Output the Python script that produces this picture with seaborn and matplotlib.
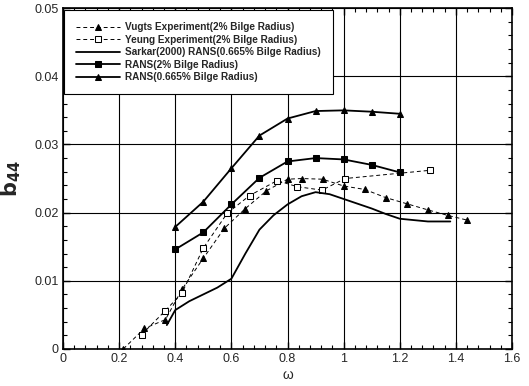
import numpy as np
import pandas as pd
import seaborn as sns
import matplotlib.pyplot as plt
from matplotlib.ticker import MultipleLocator

# data
vugts_w = [0.215, 0.29, 0.365, 0.425, 0.5, 0.575, 0.65, 0.725, 0.8, 0.85, 0.925,
           1.0, 1.075, 1.15, 1.225, 1.3, 1.37, 1.44]
vugts_b = [0.0, 0.0030, 0.0043, 0.0088, 0.0133, 0.0177, 0.0206, 0.0232, 0.0249, 0.0250,
           0.0249, 0.0239, 0.0234, 0.0222, 0.0213, 0.0204, 0.0196, 0.0189]

yeung_w = [0.28, 0.362, 0.424, 0.5, 0.585, 0.665, 0.763, 0.835, 0.923, 1.005, 1.306]
yeung_b = [0.0021, 0.0055, 0.0082, 0.0148, 0.0199, 0.0225, 0.0247, 0.0238, 0.0233, 0.0250, 0.0262]

sarkar_w = [0.37, 0.40, 0.45, 0.5, 0.55, 0.6, 0.65, 0.7, 0.75, 0.8, 0.85, 0.9, 0.95,
            1.0, 1.05, 1.1, 1.15, 1.2, 1.3, 1.38]
sarkar_b = [0.0035, 0.0057, 0.0070, 0.0080, 0.0090, 0.0103, 0.0140, 0.0175, 0.0196, 0.0212,
            0.0224, 0.0230, 0.0227, 0.0220, 0.0213, 0.0206, 0.0198, 0.0191, 0.0187, 0.0187]

rans2_w = [0.4, 0.5, 0.6, 0.7, 0.8, 0.9, 1.0, 1.1, 1.2]
rans2_b = [0.0146, 0.0171, 0.0212, 0.0251, 0.0275, 0.0280, 0.0278, 0.0270, 0.0259]

rans0665_w = [0.4, 0.5, 0.6, 0.7, 0.8, 0.9, 1.0, 1.1, 1.2]
rans0665_b = [0.0179, 0.0216, 0.0265, 0.0313, 0.0338, 0.0349, 0.0350, 0.0348, 0.0345]

sns.set_style("ticks")
plt.rcParams['font.family'] = ['Liberation Sans', 'DejaVu Sans']

fig = plt.figure(figsize=(5.29, 3.86), dpi=100)
ax = fig.add_axes([0.119, 0.096, 0.849, 0.883])

sns.lineplot(x=vugts_w, y=vugts_b, ax=ax, color='black', lw=0.7, linestyle=(0, (4, 3)),
             marker='^', markersize=3.8, markeredgecolor='black', markerfacecolor='black',
             label='Vugts Experiment(2% Bilge Radius)', sort=False)
sns.lineplot(x=yeung_w, y=yeung_b, ax=ax, color='black', lw=0.7, linestyle=(0, (4, 3)),
             marker='s', markersize=3.8, markeredgecolor='black', markerfacecolor='white',
             label='Yeung Experiment(2% Bilge Radius)', sort=False)
sns.lineplot(x=sarkar_w, y=sarkar_b, ax=ax, color='black', lw=1.3,
             label='Sarkar(2000) RANS(0.665% Bilge Radius)', sort=False)
sns.lineplot(x=rans2_w, y=rans2_b, ax=ax, color='black', lw=1.3,
             marker='s', markersize=4.3, markeredgecolor='black', markerfacecolor='black',
             label='RANS(2% Bilge Radius)', sort=False)
sns.lineplot(x=rans0665_w, y=rans0665_b, ax=ax, color='black', lw=1.3,
             marker='^', markersize=4.3, markeredgecolor='black', markerfacecolor='black',
             label='RANS(0.665% Bilge Radius)', sort=False)

ax.set_xlim(0, 1.6)
ax.set_ylim(0, 0.05)
ax.xaxis.set_major_locator(MultipleLocator(0.2))
ax.xaxis.set_minor_locator(MultipleLocator(0.04))
ax.yaxis.set_major_locator(MultipleLocator(0.01))
ax.yaxis.set_minor_locator(MultipleLocator(0.002))
ax.set_xticks([0, 0.2, 0.4, 0.6, 0.8, 1.0, 1.2, 1.4, 1.6])
ax.set_xticklabels(['0', '0.2', '0.4', '0.6', '0.8', '1', '1.2', '1.4', '1.6'])
ax.set_yticks([0, 0.01, 0.02, 0.03, 0.04, 0.05])
ax.set_yticklabels(['0', '0.01', '0.02', '0.03', '0.04', '0.05'])
ax.tick_params(which='both', direction='in', top=True, right=True, color='black',
               labelsize=9, pad=3)
ax.tick_params(which='major', length=5, width=1)
ax.tick_params(which='minor', length=3, width=0.8)
ax.grid(True, which='major', color='black', lw=0.8)
for s in ax.spines.values():
    s.set_color('black')
    s.set_linewidth(1.2)

ax.set_xlabel('ω', fontsize=10, labelpad=2)
ax.set_ylabel(r'$\mathbf{b}_{\mathbf{44}}$', fontsize=15, labelpad=8)

leg = ax.legend(loc='upper left', bbox_to_anchor=(0.002, 0.994), borderaxespad=0,
                frameon=True, fancybox=False, edgecolor='black', framealpha=1,
                prop={'weight': 'bold', 'size': 7.2}, handlelength=4.4,
                borderpad=1.2, labelspacing=0.25, handletextpad=0.5)
leg.get_frame().set_linewidth(0.8)

fig.savefig('out.png', dpi=100)
